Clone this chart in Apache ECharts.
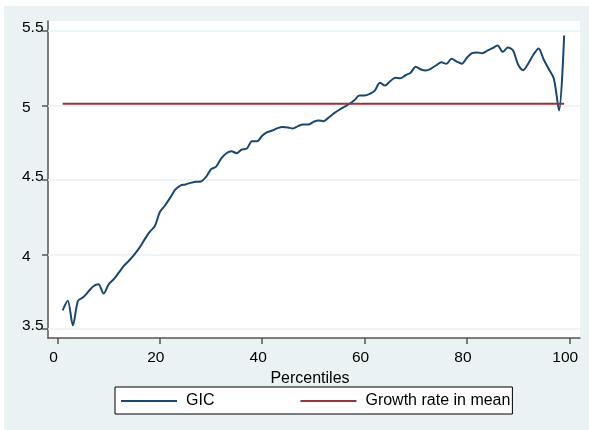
<!DOCTYPE html>
<html>
<head>
<meta charset="utf-8">
<script src="https://cdn.jsdelivr.net/npm/echarts@6/dist/echarts.min.js"></script>
<style>html,body{margin:0;padding:0;background:#fff}#c{width:589px;height:430px}</style>
</head>
<body>
<div id="c"></div>
<script>
var percentiles = [];
for (var i = 1; i <= 99; i++) percentiles.push(i);
var gic = [
 3.626, 3.690, 3.525, 3.690, 3.713, 3.750, 3.787, 3.800, 3.738, 3.800,
 3.835, 3.880, 3.925, 3.960, 4.000, 4.045, 4.100, 4.152, 4.190, 4.285,
 4.329, 4.380, 4.435, 4.463, 4.470, 4.481, 4.488, 4.490, 4.520, 4.572,
 4.590, 4.645, 4.680, 4.693, 4.680, 4.705, 4.711, 4.760, 4.760, 4.797,
 4.821, 4.832, 4.848, 4.856, 4.853, 4.846, 4.862, 4.872, 4.872, 4.890,
 4.900, 4.895, 4.920, 4.947, 4.970, 4.990, 5.010, 5.035, 5.067, 5.067,
 5.078, 5.100, 5.152, 5.134, 5.163, 5.186, 5.183, 5.203, 5.220, 5.260,
 5.242, 5.235, 5.248, 5.270, 5.290, 5.280, 5.313, 5.295, 5.280, 5.320,
 5.352, 5.356, 5.350, 5.368, 5.385, 5.403, 5.360, 5.390, 5.370, 5.275,
 5.237, 5.282, 5.342, 5.383, 5.309, 5.245, 5.180, 4.966, 5.470
];
var meanGrowth = 5.012;
var meanRange = [1, 99];
var xTicks = [0, 20, 40, 60, 80, 100];
var yTicks = [3.5, 4, 4.5, 5, 5.5];
var seriesNames = ['GIC', 'Growth rate in mean'];

var FONT = 'Liberation Sans, Arial, sans-serif';
var chart = echarts.init(document.getElementById('c'), null, {renderer: 'canvas'});
var gicData = percentiles.map(function (p, k) { return [p, gic[k]]; });
var meanData = meanRange.map(function (p) { return [p, meanGrowth]; });

chart.setOption({
  backgroundColor: '#ffffff',
  animation: false,
  graphic: [{
    type: 'rect', z: -100, silent: true,
    shape: {x: 4, y: 6, width: 585, height: 424},
    style: {fill: '#eaf2f3'}
  }],
  grid: {left: 48, top: 21, right: 9, bottom: 92, show: true, backgroundColor: '#ffffff', borderWidth: 0},
  xAxis: {
    type: 'value', min: -1.86, max: 102.1,
    name: 'Percentiles', nameLocation: 'middle', nameGap: 22,
    nameTextStyle: {fontFamily: FONT, fontSize: 16, color: '#000', padding: [0, 8, 0, 0]},
    axisLine: {show: true, onZero: false, lineStyle: {color: '#555', width: 1.5}},
    axisTick: {show: true, length: 6, customValues: xTicks, lineStyle: {color: '#555', width: 1.5}},
    axisLabel: {customValues: xTicks, fontFamily: FONT, fontSize: 15.5, color: '#000', margin: 12, padding: [0, 8, 0, 0]},
    splitLine: {show: false}
  },
  yAxis: {
    type: 'value', min: 3.44, max: 5.567,
    axisLine: {show: true, onZero: false, lineStyle: {color: '#555', width: 1.5}},
    axisTick: {show: true, length: 6, customValues: yTicks, lineStyle: {color: '#555', width: 1.5}},
    axisLabel: {
      customValues: yTicks, fontFamily: FONT, fontSize: 15.5, color: '#000', margin: 26, align: 'left',
      formatter: function (v) { return (String(v).indexOf('.') >= 0) ? '{d|' + v + '}' : '{i|' + v + '}'; },
      rich: {
        d: {fontFamily: FONT, fontSize: 15.5, color: '#000', padding: [0, 0, 7, 0]},
        i: {fontFamily: FONT, fontSize: 15.5, color: '#000', padding: [4, 0, 0, 0]}
      }
    },
    splitLine: {show: false}
  },
  legend: {
    data: seriesNames, left: 115, top: 387, orient: 'horizontal',
    padding: [6, 2, 5, 6], itemWidth: 56, itemHeight: 2, itemGap: 86,
    icon: 'rect',
    backgroundColor: '#ffffff', borderColor: '#000', borderWidth: 1, borderRadius: 0,
    textStyle: {fontFamily: FONT, fontSize: 16, color: '#000', padding: [0, 0, 0, 4]}
  },
  series: [{
    name: seriesNames[0], type: 'line', data: gicData, symbol: 'none', smooth: 0.3,
    lineStyle: {color: '#1a476f', width: 2}, itemStyle: {color: '#1a476f'}, z: 3
  }, {
    name: seriesNames[1], type: 'line', data: meanData, symbol: 'none',
    lineStyle: {color: '#90353b', width: 2}, itemStyle: {color: '#90353b'}, z: 4,
    markLine: {
      silent: true, symbol: 'none', z: 1, label: {show: false},
      lineStyle: {color: '#eaf2f3', width: 1.5, type: 'solid'},
      data: yTicks.map(function (v) { return {yAxis: v}; })
    }
  }]
});
</script>
</body>
</html>
